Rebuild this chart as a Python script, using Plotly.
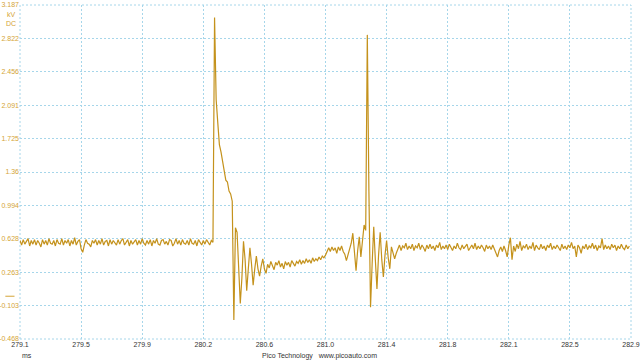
import plotly.graph_objects as go

# ---- data (kV, sampled every 0.01 ms starting at 279.10 ms) ----
t_start = 279.10
t_step = 0.01

baseline_left = [
    0.61, 0.56, 0.62, 0.57, 0.60, 0.63, 0.55, 0.61, 0.57, 0.62,
    0.56, 0.61, 0.58, 0.54, 0.62, 0.57, 0.61, 0.56, 0.63, 0.58,
    0.57, 0.61, 0.55, 0.62, 0.58, 0.57, 0.63, 0.56, 0.61, 0.58,
    0.62, 0.55, 0.61, 0.57, 0.64, 0.56, 0.60, 0.62, 0.52, 0.48,
    0.56, 0.62, 0.58, 0.57, 0.54, 0.61, 0.58, 0.62, 0.56, 0.61,
    0.57, 0.63, 0.56, 0.60, 0.61, 0.55, 0.62, 0.57, 0.61, 0.58,
    0.56, 0.62, 0.57, 0.61, 0.63, 0.56, 0.60, 0.62, 0.55, 0.61,
    0.57, 0.60, 0.62, 0.56, 0.61, 0.57, 0.63, 0.58, 0.56, 0.61,
    0.57, 0.62, 0.55, 0.61, 0.58, 0.63, 0.57, 0.56, 0.61, 0.62,
    0.57, 0.60, 0.56, 0.62, 0.61, 0.55, 0.58, 0.63, 0.57, 0.61,
    0.56, 0.62, 0.58, 0.57, 0.61, 0.56, 0.63, 0.58, 0.57, 0.61,
    0.55, 0.62, 0.58, 0.56, 0.61, 0.57, 0.62, 0.58, 0.56, 0.61,
    0.59,
]
first_spark = [
    3.05, 2.15, 1.90, 1.66, 1.58, 1.47, 1.40, 1.27, 1.25, 1.15, 1.12, 1.04,
    -0.26, 0.75, 0.70, 0.30, -0.08, 0.20, 0.60, 0.40, 0.06, 0.30, 0.53,
    0.35, 0.12, 0.30, 0.44, 0.30, 0.22, 0.33, 0.41, 0.30, 0.25, 0.35,
]
baseline_mid = [
    0.31, 0.38, 0.33, 0.29, 0.37, 0.34, 0.39, 0.32, 0.36, 0.30,
    0.38, 0.34, 0.37, 0.32, 0.39, 0.35, 0.33, 0.38, 0.36, 0.40,
    0.35, 0.39, 0.36, 0.41, 0.37, 0.40, 0.36, 0.42, 0.38, 0.41,
    0.39, 0.43, 0.40, 0.44,
    0.42, 0.45, 0.50, 0.53, 0.49, 0.54, 0.50, 0.53, 0.47, 0.54,
    0.50, 0.55, 0.49, 0.46, 0.39, 0.45, 0.50, 0.58, 0.69, 0.45,
    0.28, 0.50, 0.65, 0.43, 0.60, 0.78, 0.72,
]
second_spark = [
    2.86, 1.15, -0.12, 0.35, 0.76, 0.40, 0.08, 0.45, 0.70, 0.40,
    0.21, 0.45, 0.61, 0.42, 0.30, 0.54, 0.48, 0.41, 0.47,
]
baseline_right = [
    0.52, 0.56, 0.50, 0.55, 0.53, 0.58, 0.51, 0.55, 0.52, 0.57,
    0.50, 0.55, 0.53, 0.58, 0.51, 0.56, 0.53, 0.49, 0.56, 0.52,
    0.57, 0.52, 0.55, 0.50, 0.56, 0.53, 0.59, 0.51, 0.55, 0.52,
    0.56, 0.51, 0.57, 0.53, 0.50, 0.55, 0.52, 0.58, 0.53, 0.51,
    0.56, 0.52, 0.55, 0.57, 0.50, 0.53, 0.56, 0.52, 0.58, 0.51,
    0.55, 0.52, 0.56, 0.53, 0.49, 0.56, 0.52, 0.55, 0.51, 0.56,
    0.51, 0.46, 0.43, 0.50, 0.54, 0.49, 0.55, 0.50, 0.43, 0.56,
    0.64, 0.40, 0.55, 0.49, 0.57, 0.52, 0.60, 0.50, 0.55, 0.53,
    0.57, 0.51, 0.55, 0.52, 0.59, 0.50, 0.56, 0.53, 0.51, 0.57,
    0.52, 0.55, 0.50, 0.56, 0.53, 0.58, 0.51, 0.55, 0.52, 0.56,
    0.53, 0.50, 0.57, 0.52, 0.55, 0.51, 0.56, 0.53, 0.59, 0.52,
    0.55, 0.43, 0.56, 0.53, 0.47, 0.55, 0.52, 0.57, 0.51, 0.55,
    0.53, 0.58, 0.52, 0.56, 0.50, 0.55, 0.53, 0.63, 0.51, 0.56,
    0.52, 0.55, 0.51, 0.57, 0.53, 0.56, 0.50, 0.55, 0.52, 0.57,
    0.53, 0.51, 0.56, 0.52, 0.55,
]
voltage = baseline_left + first_spark + baseline_mid + second_spark + baseline_right

x_ticks = [279.1, 279.48, 279.86, 280.24, 280.62, 281.0, 281.38, 281.76, 282.14, 282.52, 282.9]
x_labels = ["279.1", "279.5", "279.9", "280.2", "280.6", "281.0", "281.4", "281.8", "282.1", "282.5", "282.9"]
y_ticks = [3.187, 2.8215, 2.456, 2.0905, 1.725, 1.3595, 0.994, 0.6285, 0.263, -0.1025, -0.468]
y_labels = ["3.187", "2.822", "2.456", "2.091", "1.725", "1.36", "0.994", "0.628", "0.263", "-0.103", "-0.468"]

TRACE = "#c4921c"
GOLD = "#d4a436"
GRID = "#a6d6ea"
DOTS = "2px,2px"
FONT = "Liberation Sans"

fig = go.Figure()
fig.add_trace(go.Scatter(
    x0=t_start, dx=t_step, y=voltage, mode="lines",
    line=dict(color=TRACE, width=1.2), hoverinfo="skip", showlegend=False,
))

fig.update_layout(
    width=640, height=360,
    margin=dict(l=20, r=9, t=5, b=21),
    paper_bgcolor="white", plot_bgcolor="white",
    font=dict(family=FONT, size=7, color="#333333"),
    xaxis=dict(
        range=[279.1, 282.9], tickmode="array", tickvals=x_ticks, ticktext=x_labels,
        showgrid=True, gridcolor=GRID, griddash=DOTS, gridwidth=1,
        zeroline=False, showline=False, ticks="", ticklen=0, automargin=False,
        tickfont=dict(family=FONT, size=7, color="#333333"),
    ),
    yaxis=dict(
        range=[-0.468, 3.187], tickmode="array", tickvals=y_ticks, ticktext=y_labels,
        showgrid=True, gridcolor=GRID, griddash=DOTS, gridwidth=1,
        zeroline=False, showline=False, ticks="", ticklen=0, automargin=False,
        tickfont=dict(family=FONT, size=7, color=GOLD),
    ),
    shapes=[
        dict(type="rect", xref="paper", yref="paper", x0=0, x1=1, y0=0, y1=1,
             line=dict(color=GRID, width=1, dash=DOTS), layer="below"),
        dict(type="line", xref="paper", yref="y", x0=-0.024, x1=-0.009, y0=0, y1=0,
             line=dict(color=GOLD, width=1)),
    ],
    annotations=[
        dict(text="kV", xref="paper", yref="paper", x=-0.003, y=0.972, xanchor="right",
             yanchor="middle", showarrow=False, font=dict(family=FONT, size=7, color=GOLD)),
        dict(text="DC", xref="paper", yref="paper", x=-0.003, y=0.945, xanchor="right",
             yanchor="middle", showarrow=False, font=dict(family=FONT, size=7, color=GOLD)),
        dict(text="ms", xref="paper", yref="paper", x=0.0, y=-0.05, xanchor="left",
             yanchor="middle", showarrow=False, font=dict(family=FONT, size=7, color="#333333")),
        dict(text="Pico Technology   www.picoauto.com", xref="paper", yref="paper",
             x=0.49, y=-0.05, xanchor="center", yanchor="middle", showarrow=False,
             font=dict(family=FONT, size=7, color="#333333")),
    ],
)

fig.write_html("out.html")
